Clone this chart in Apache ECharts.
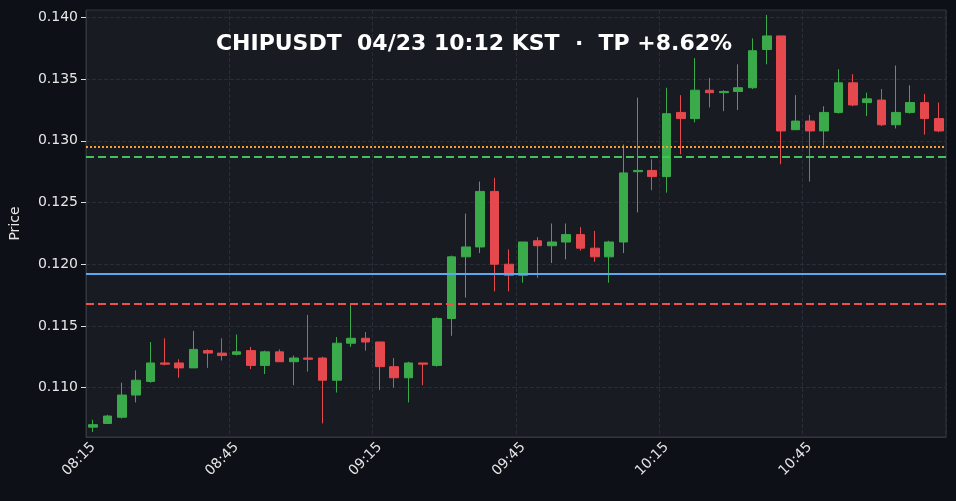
<!DOCTYPE html>
<html>
<head>
<meta charset="utf-8">
<script src="https://cdn.jsdelivr.net/npm/echarts@6/dist/echarts.min.js"></script>
<style>
  html, body { margin: 0; padding: 0; background: #0d1016; }
  #chart { width: 956px; height: 501px; }
</style>
</head>
<body>
<div id="chart"></div>
<script>
// 3-minute candles, 08:15 .. 11:12 KST
const times = []
for (let i = 0; i < 60; i++) {
  const m = 8 * 60 + 15 + i * 3
  times.push(String(Math.floor(m / 60)).padStart(2, '0') + ':' + String(m % 60).padStart(2, '0'))
}

// [open, close, low, high]
const candles = [
  [0.1068, 0.1070, 0.1064, 0.1074], [0.1071, 0.1077, 0.1071, 0.1078], [0.1076, 0.1094, 0.1075, 0.1104],
  [0.1094, 0.1106, 0.1088, 0.1114], [0.1105, 0.1120, 0.1104, 0.1137], [0.1120, 0.1119, 0.1118, 0.1140],
  [0.1120, 0.1116, 0.1108, 0.1123], [0.1116, 0.1131, 0.1116, 0.1146], [0.1130, 0.1128, 0.1116, 0.1131],
  [0.1128, 0.1126, 0.1122, 0.1140], [0.1127, 0.1129, 0.1126, 0.1143], [0.1130, 0.1118, 0.1115, 0.1133],
  [0.1118, 0.1129, 0.1111, 0.1130], [0.1129, 0.1121, 0.1121, 0.1131], [0.1121, 0.1124, 0.1102, 0.1126],
  [0.1124, 0.1123, 0.1113, 0.1159], [0.1124, 0.1106, 0.1071, 0.1125], [0.1106, 0.1136, 0.1096, 0.1141],
  [0.1136, 0.1140, 0.1133, 0.1167], [0.1140, 0.1137, 0.1130, 0.1145], [0.1137, 0.1117, 0.1098, 0.1137],
  [0.1117, 0.1108, 0.1100, 0.1124], [0.1108, 0.1120, 0.1088, 0.1121], [0.1120, 0.1119, 0.1102, 0.1120],
  [0.1118, 0.1156, 0.1117, 0.1157], [0.1156, 0.1206, 0.1142, 0.1207], [0.1206, 0.1214, 0.1173, 0.1241],
  [0.1214, 0.1259, 0.1209, 0.1267], [0.1259, 0.1200, 0.1178, 0.1270], [0.1200, 0.1191, 0.1178, 0.1212],
  [0.1191, 0.1218, 0.1185, 0.1218], [0.1219, 0.1215, 0.1189, 0.1222], [0.1215, 0.1218, 0.1201, 0.1233],
  [0.1218, 0.1224, 0.1204, 0.1233], [0.1224, 0.1213, 0.1211, 0.1230], [0.1213, 0.1206, 0.1202, 0.1227],
  [0.1206, 0.1218, 0.1185, 0.1219], [0.1218, 0.1274, 0.1209, 0.1297], [0.1275, 0.1276, 0.1242, 0.1335],
  [0.1276, 0.1271, 0.1260, 0.1285], [0.1271, 0.1322, 0.1258, 0.1343], [0.1323, 0.1318, 0.1289, 0.1337],
  [0.1318, 0.1341, 0.1315, 0.1367], [0.1341, 0.1339, 0.1327, 0.1351], [0.1339, 0.1340, 0.1324, 0.1341],
  [0.1340, 0.1343, 0.1325, 0.1362], [0.1343, 0.1373, 0.1342, 0.1383], [0.1374, 0.1385, 0.1362, 0.1402],
  [0.1385, 0.1308, 0.1281, 0.1385], [0.1309, 0.1316, 0.1309, 0.1337], [0.1316, 0.1308, 0.1267, 0.1321],
  [0.1308, 0.1323, 0.1296, 0.1328], [0.1323, 0.1347, 0.1322, 0.1358], [0.1347, 0.1329, 0.1328, 0.1354],
  [0.1331, 0.1334, 0.1320, 0.1339], [0.1333, 0.1313, 0.1312, 0.1342], [0.1313, 0.1323, 0.1310, 0.1361],
  [0.1323, 0.1331, 0.1322, 0.1345], [0.1331, 0.1318, 0.1305, 0.1338], [0.1318, 0.1308, 0.1307, 0.1331]
]

const priceTicks = [0.110, 0.115, 0.120, 0.125, 0.130, 0.135, 0.140]

const tpLevel = 0.1295
const entryHigh = 0.1287
const entryLevel = 0.1192
const stopLevel = 0.1168

const chart = echarts.init(document.getElementById('chart'))

const hline = (y, color, type, width) => ({
  yAxis: y,
  lineStyle: { color: color, type: type, width: width }
})

chart.setOption({
  backgroundColor: '#0d1016',
  animation: false,
  title: {
    text: 'CHIPUSDT  04/23 10:12 KST  ·  TP +8.62%',
    left: 469, top: 28, textAlign: 'center',
    textStyle: { color: '#ffffff', fontSize: 22, fontWeight: 'bold', fontFamily: 'DejaVu Sans' }
  },
  grid: { left: 86, right: 10, top: 10, bottom: 64, show: true, backgroundColor: '#181b22', borderColor: '#33363d' },
  xAxis: {
    type: 'category',
    data: times,
    axisLine: { lineStyle: { color: '#33363d' } },
    axisTick: { alignWithLabel: true, interval: 9, lineStyle: { color: '#dddddd' } },
    axisLabel: { interval: 9, rotate: 45, color: '#e6e6e6', fontSize: 14, fontFamily: 'DejaVu Sans' },
    splitLine: { show: true, interval: 9, lineStyle: { color: '#2a2d35', type: 'dashed' } }
  },
  yAxis: {
    type: 'value',
    min: 0.106, max: 0.1406,
    name: 'Price', nameLocation: 'middle', nameGap: 64,
    nameTextStyle: { color: '#e6e6e6', fontSize: 14, fontFamily: 'DejaVu Sans' },
    axisLine: { show: true, lineStyle: { color: '#33363d' } },
    axisTick: { show: true, customValues: priceTicks, lineStyle: { color: '#dddddd' } },
    axisLabel: {
      customValues: priceTicks,
      color: '#e6e6e6', fontSize: 14, fontFamily: 'DejaVu Sans',
      formatter: v => v.toFixed(3)
    },
    splitLine: { show: false }
  },
  series: [{
    type: 'candlestick',
    data: candles,
    barWidth: '65%',
    itemStyle: {
      color: '#3aaa4a', color0: '#e5484d',
      borderColor: '#3aaa4a', borderColor0: '#e5484d', borderWidth: 1
    }
  }, {
    type: 'line',
    data: [],
    z: 1,
    markLine: {
      symbol: 'none', silent: true, z: 1, precision: 4,
      label: { show: false },
      data: priceTicks.map(v => hline(v, '#2a2d35', 'dashed', 1))
    }
  }, {
    type: 'line',
    data: [],
    markLine: {
      symbol: 'none', silent: true, precision: 5,
      label: { show: false },
      data: [
        hline(tpLevel, '#f0a030', 'dotted', 2),
        hline(entryHigh, '#3ec45a', 'dashed', 2),
        hline(entryLevel, '#5aa8f0', 'solid', 2),
        hline(stopLevel, '#f0504a', 'dashed', 2)
      ]
    }
  }]
})
</script>
</body>
</html>
